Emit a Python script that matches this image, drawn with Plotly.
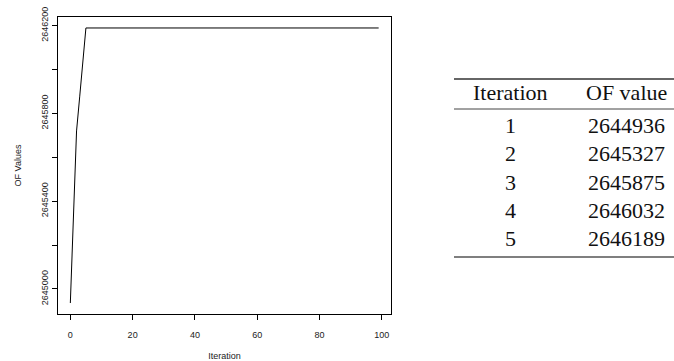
import plotly.graph_objects as go

# ---- data ----
iterations_plot = list(range(100))
of_values_plot = [2644936, 2645327, 2645720, 2645875, 2646032] + [2646189] * 95

table_iterations = [1, 2, 3, 4, 5]
table_of_values = [2644936, 2645327, 2645875, 2646032, 2646189]

x_ticks = [0, 20, 40, 60, 80, 100]
y_ticks = [2645000, 2645200, 2645400, 2645600, 2645800, 2646000, 2646200]
y_ticklabels = ["2645000", "", "2645400", "", "2645800", "", "2646200"]

# ---- layout geometry (pixels) ----
W, H = 674, 361
L, R, T, B = 58, 391, 17, 314

def px(xp):
    return (xp - L) / (R - L)

def py(yp):
    return (B - yp) / (B - T)

fig = go.Figure()
fig.add_trace(go.Scatter(x=iterations_plot, y=of_values_plot, mode="lines",
                         line=dict(color="black", width=1), showlegend=False,
                         hoverinfo="skip"))

axis_font = dict(family="Liberation Sans, Arial, sans-serif", size=9, color="#222")

fig.update_layout(
    width=W, height=H,
    margin=dict(l=L, r=W - R, t=T, b=H - B, pad=0, autoexpand=False),
    paper_bgcolor="white", plot_bgcolor="white",
    xaxis=dict(range=[-3.96, 102.96], tickvals=x_ticks, ticks="outside", ticklen=5,
               tickcolor="black", showline=True, linecolor="black", linewidth=1,
               mirror=True, showgrid=False, zeroline=False, tickfont=axis_font,
               ticklabelstandoff=7, automargin=False,
               title=dict(text="Iteration", font=axis_font, standoff=14)),
    yaxis=dict(range=[2644886, 2646239], tickvals=y_ticks, ticktext=y_ticklabels,
               ticks="outside", ticklen=5, tickcolor="black", showline=True,
               linecolor="black", linewidth=1, mirror=True, showgrid=False,
               zeroline=False, tickangle=-90, tickfont=axis_font, automargin=False,
               title=dict(text="OF Values", font=axis_font, standoff=17)),
)

# ---- table ----
tfont = dict(family="Liberation Serif, Times New Roman, serif", size=22, color="#111")
col1_x, col2_x = 510, 626
header_y = 93
row_ys = [125, 153, 182, 210, 239]
rule_left, rule_right = 454, 674

fig.add_annotation(x=px(col1_x), y=py(header_y), xref="paper", yref="paper",
                   text="Iteration", showarrow=False, font=tfont, xanchor="center", yanchor="middle")
fig.add_annotation(x=px(col2_x), y=py(header_y), xref="paper", yref="paper",
                   text="OF value", showarrow=False, font=tfont, xanchor="center", yanchor="middle")
for it, val, yy in zip(table_iterations, table_of_values, row_ys):
    fig.add_annotation(x=px(col1_x), y=py(yy), xref="paper", yref="paper",
                       text=str(it), showarrow=False, font=tfont, xanchor="center", yanchor="middle")
    fig.add_annotation(x=px(col2_x), y=py(yy), xref="paper", yref="paper",
                       text=str(val), showarrow=False, font=tfont, xanchor="center", yanchor="middle")

for yy, w, c in [(79, 1.6, "#333"), (109, 1.0, "#444"), (257, 1.6, "#555")]:
    fig.add_shape(type="line", xref="paper", yref="paper",
                  x0=px(rule_left), x1=px(rule_right), y0=py(yy), y1=py(yy),
                  line=dict(color=c, width=w))

fig.write_html("out.html", config={"displayModeBar": False},
               post_script="document.body.style.margin='0px'; document.body.style.overflow='hidden';")
